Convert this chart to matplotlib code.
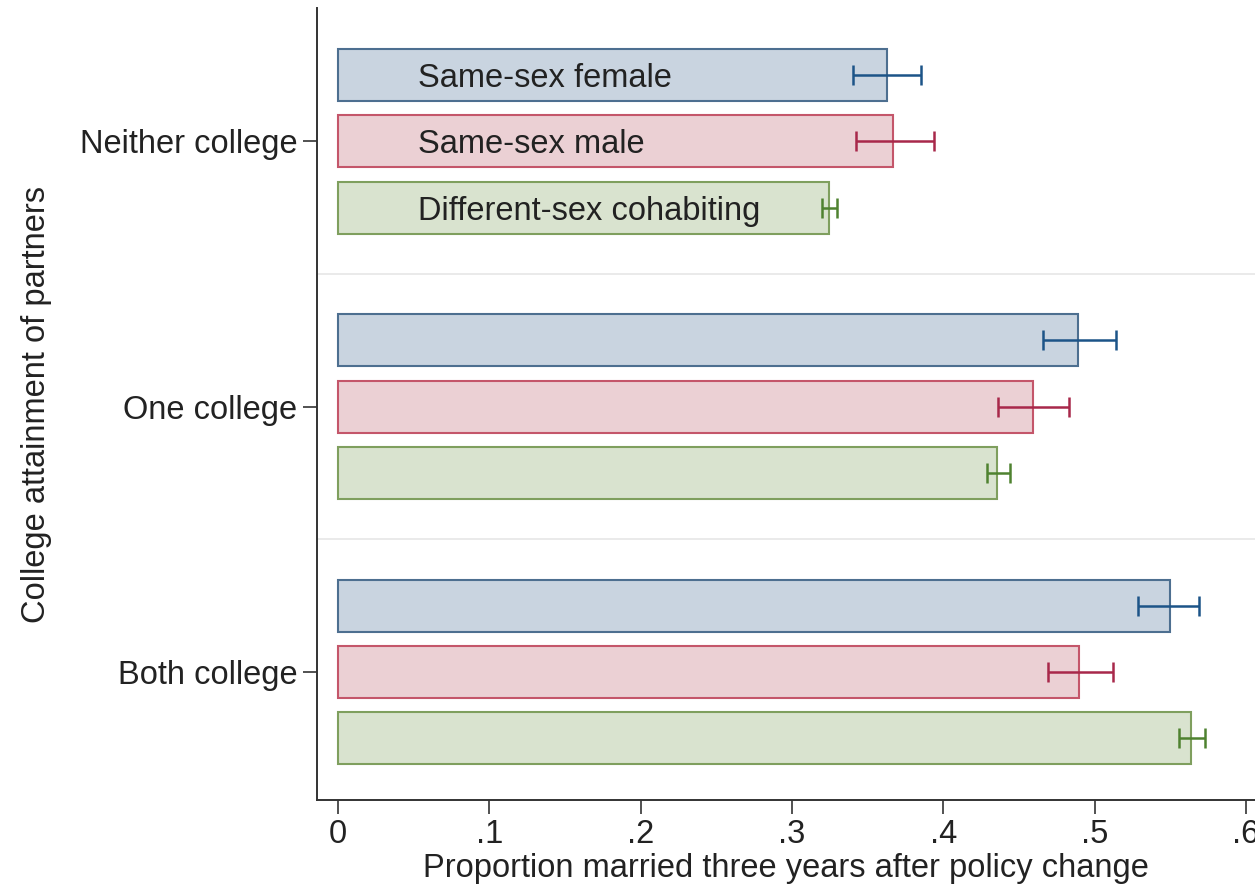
import numpy as np
import matplotlib.pyplot as plt

plt.rcParams['font.family'] = ['Liberation Sans', 'DejaVu Sans']

groups = ['Neither college', 'One college', 'Both college']
series = ['Same-sex female', 'Same-sex male', 'Different-sex cohabiting']

female = [0.363, 0.489, 0.550]
female_lo = [0.340, 0.466, 0.529]
female_hi = [0.385, 0.514, 0.569]

male = [0.367, 0.459, 0.490]
male_lo = [0.342, 0.436, 0.469]
male_hi = [0.394, 0.483, 0.512]

diff = [0.3245, 0.4355, 0.564]
diff_lo = [0.320, 0.429, 0.556]
diff_hi = [0.330, 0.444, 0.573]

xticks = [0, 0.1, 0.2, 0.3, 0.4, 0.5, 0.6]
xtick_labels = ['0', '.1', '.2', '.3', '.4', '.5', '.6']

fills = ['#c9d4e0', '#ebd0d4', '#d9e3cf']
edges = ['#4d6f90', '#c4566a', '#7f9f5e']
errcols = ['#1c5488', '#a8284a', '#4f8230']

fig = plt.figure(figsize=(12.55, 8.91), dpi=100)
ax = fig.add_axes([0.2526, 0.1021, 0.7474, 0.8889])

pos = np.arange(len(groups))
offsets = [-0.25, 0.0, 0.25]
vals = [female, male, diff]
los = [female_lo, male_lo, diff_lo]
his = [female_hi, male_hi, diff_hi]

for i in range(3):
    y = pos + offsets[i]
    ax.barh(y, vals[i], height=0.196, color=fills[i], edgecolor=edges[i],
            linewidth=1.5, zorder=2)
    v = np.array(vals[i])
    ax.errorbar(v, y, xerr=[v - np.array(los[i]), np.array(his[i]) - v],
                fmt='none', ecolor=errcols[i], elinewidth=1.8, capsize=7,
                capthick=1.8, zorder=3)
    # series name written inside the first group's bars
    ax.text(0.053, pos[0] + offsets[i], series[i], fontsize=23.5,
            va='center_baseline', ha='left', color='#222222', zorder=4)

for s in [0.5, 1.5]:
    ax.axhline(s, color='#e6e6e6', linewidth=1.2, zorder=1)

ax.set_ylim(2.483, -0.502)
ax.set_xlim(-0.0139, 0.606)
ax.set_yticks(pos)
ax.set_yticklabels(groups, fontsize=23.5)
ax.set_xticks(xticks)
ax.set_xticklabels(xtick_labels, fontsize=23.5)
ax.tick_params(axis='both', length=10, width=1.2, color='#333333',
               labelcolor='#222222', pad=4)

ax.spines['top'].set_visible(False)
ax.spines['right'].set_visible(False)
ax.spines['left'].set_color('#333333')
ax.spines['bottom'].set_color('#333333')
ax.spines['left'].set_linewidth(1.4)
ax.spines['bottom'].set_linewidth(1.4)

ax.set_xlabel('Proportion married three years after policy change',
              fontsize=23.5, color='#222222', labelpad=2)
ax.set_ylabel('College attainment of partners', fontsize=23.5,
              color='#222222', labelpad=20)

fig.savefig('out.png', dpi=100)
